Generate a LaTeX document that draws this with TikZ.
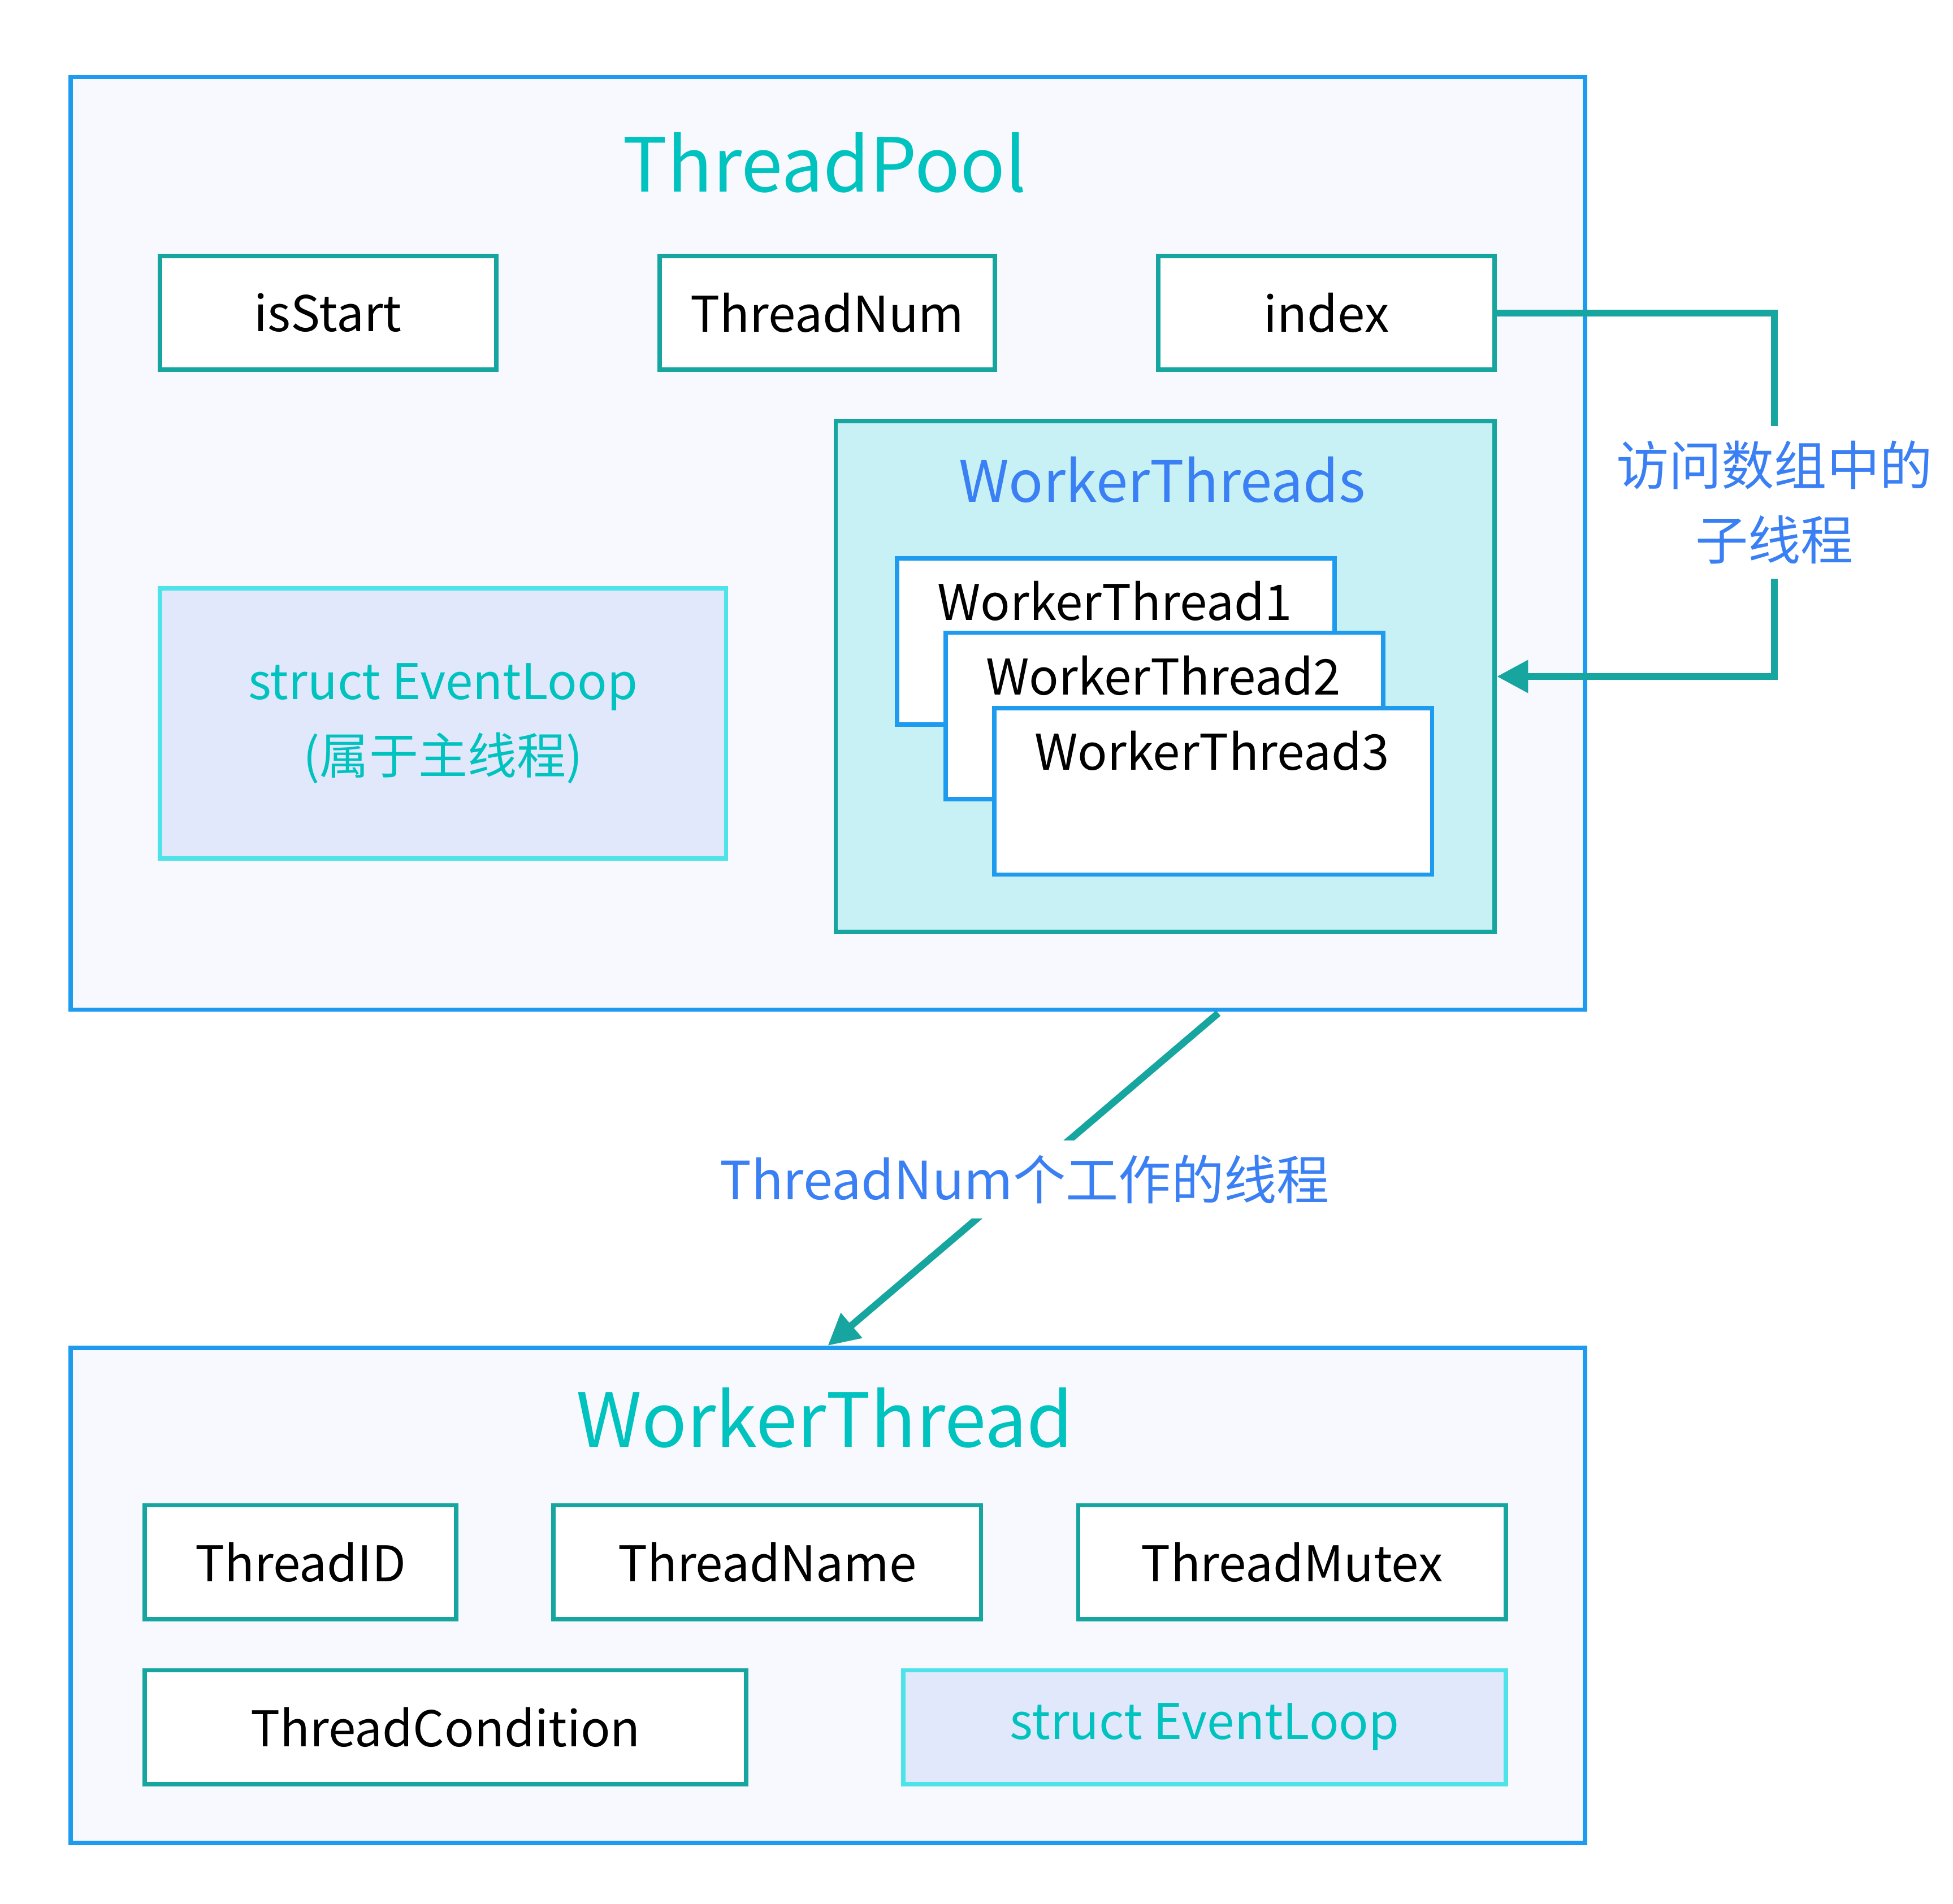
\documentclass[tikz,border=0pt]{standalone}
\usepackage{fontspec}
\setmainfont{Noto Sans CJK SC}
\usetikzlibrary{positioning,arrows.meta}
\definecolor{poolfill}{HTML}{F8F8FF}
\definecolor{poolline}{HTML}{1E9BEF}
\definecolor{fieldline}{HTML}{17A59F}
\definecolor{titleteal}{HTML}{00C2BE}
\definecolor{loopfill}{HTML}{E1E8FC}
\definecolor{loopline}{HTML}{4DE3E8}
\definecolor{wtfill}{HTML}{C8F1F6}
\definecolor{labelblue}{HTML}{3A80F4}
\begin{document}
\begin{tikzpicture}[x=0.01cm,y=-0.01cm,
                    field/.style={draw=fieldline,line width=1pt,fill=white,font=\fontsize{11.2pt}{14pt}\selectfont,minimum height=0.91cm,inner sep=0pt},
                    loopbox/.style={draw=loopline,line width=1pt,fill=loopfill,text=titleteal,font=\fontsize{11.2pt}{17pt}\selectfont,align=center,inner sep=0pt},
                    worker/.style={draw=poolline,line width=1pt,fill=white,minimum width=3.5cm,minimum height=1.33cm,inner sep=0pt},
                    outer/.style={draw=poolline,line width=1pt,fill=poolfill,inner sep=0pt},
                    title/.style={text=titleteal,font=\fontsize{17pt}{20pt}\selectfont},
                    arrowlabel/.style={fill=white,text=labelblue,font=\fontsize{12pt}{17pt}\selectfont,align=center}]
 \useasboundingbox (0,0) rectangle (1563,1524);

 % thread pool
 \node[outer,minimum width=12.11cm,minimum height=7.46cm] (pool) at (662.5,435) {};
 \node[title] (pooltitle) at (660,130) {ThreadPool};
 \node[field,minimum width=2.69cm] (isstart) at (262.5,250.5) {isStart};
 \node[field,minimum width=2.68cm] (threadnum) at (662,250.5) {ThreadNum};
 \node[field,minimum width=2.69cm] (index) at (1061.5,250.5) {index};
 \node[loopbox,minimum width=4.53cm,minimum height=2.16cm] (mainloop) at (354.5,579) {struct EventLoop\\(属于主线程)};

 % worker threads array
 \node[draw=fieldline,line width=1pt,fill=wtfill,minimum width=5.27cm,minimum height=4.09cm,inner sep=0pt] (workers) at (932.5,541.5) {};
 \node[text=labelblue,font=\fontsize{13pt}{16pt}\selectfont] (workerstitle) at (930,384) {WorkerThreads};
 \node[worker] (wt1) at (893,513.5) {};
 \node[worker] (wt2) at (932,573) {};
 \node[worker] (wt3) at (971,633.5) {};
 \node[font=\fontsize{11.2pt}{14pt}\selectfont] (wt1text) at (892,481) {WorkerThread1};
 \node[font=\fontsize{11.2pt}{14pt}\selectfont] (wt2text) at (931,541) {WorkerThread2};
 \node[font=\fontsize{11.2pt}{14pt}\selectfont] (wt3text) at (970,601) {WorkerThread3};

 % worker thread
 \node[outer,minimum width=12.11cm,minimum height=3.96cm] (thread) at (662.5,1277) {};
 \node[title] (threadtitle) at (660,1135) {WorkerThread};
 \node[field,minimum width=2.49cm] (threadid) at (240.5,1250.5) {ThreadID};
 \node[field,minimum width=3.42cm] (threadname) at (614,1250.5) {ThreadName};
 \node[field,minimum width=3.42cm] (threadmutex) at (1034,1250.5) {ThreadMutex};
 \node[field,minimum width=4.81cm] (threadcond) at (356.5,1382.5) {ThreadCondition};
 \node[loopbox,minimum width=4.82cm,minimum height=0.91cm] (threadloop) at (964,1382.5) {struct EventLoop};

 % connectors
 \coordinate (diagtop) at (975,811);
 \draw[fieldline,line width=1.6pt,-{Triangle[length=0.25cm,width=0.25cm]}]
   (index.east) -| (1420,400) |- (workers.east);
 \node[arrowlabel] (accesslabel) at (1420,402) {访问数组中的\\子线程};
 \draw[fieldline,line width=1.6pt,-{Triangle[length=0.25cm,width=0.25cm]}] (diagtop) -- (thread.north);
 \node[arrowlabel] (countlabel) at (820,944) {ThreadNum个工作的线程};
\end{tikzpicture}
\end{document}
